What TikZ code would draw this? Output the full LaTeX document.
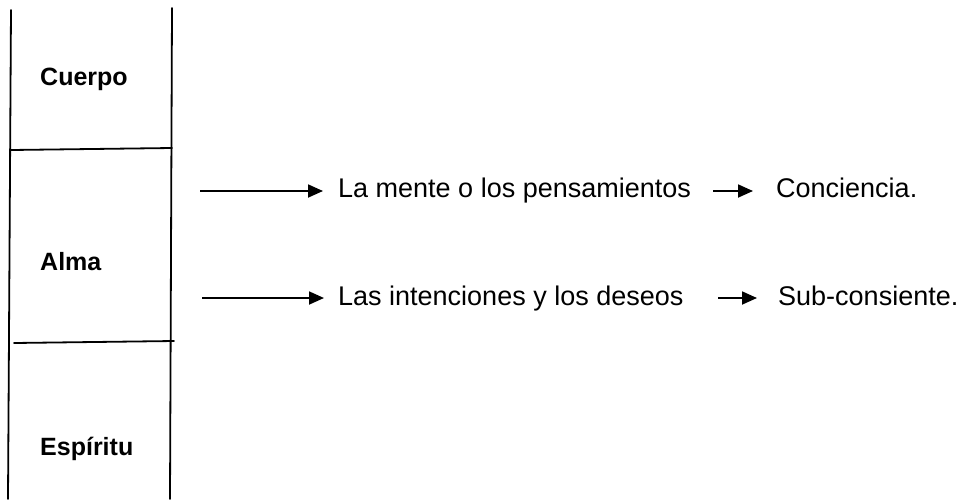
\documentclass[tikz,border=0pt]{standalone}
\usepackage{fontspec}
\setmainfont{Liberation Sans}
\usetikzlibrary{arrows.meta,calc}
\tikzset{
  rule/.style={line width=1.8pt, line cap=round},
  lbl/.style={inner sep=0pt, anchor=base west, font=\fontsize{25}{25}\selectfont\bfseries},
  txt/.style={inner sep=0pt, anchor=base west, font=\fontsize{27}{27}\selectfont},
  arr/.style={line width=1.8pt, -{Triangle[length=15pt,width=13pt]}}
}
\begin{document}
\begin{tikzpicture}[x=1pt,y=-1pt]
\useasboundingbox (0,0) rectangle (961,499);
% column
\draw[rule] (11,10) -- (8,499);
\draw[rule] (172,8) -- (170,499);
\draw[rule] (11,150) -- (172,148);
\draw[rule] (14,343) -- (174,341);
% labels
\node[lbl] (cuerpo) at (40,85) {Cuerpo};
\node[lbl] (alma) at (40,270) {Alma};
\node[lbl] (espiritu) at (40,455) {Espíritu};
% texts
\node[txt] (mente) at (338,197.5) {La mente o los pensamientos};
\node[txt] (conc) at (776,197.5) {Conciencia.};
\node[txt] (inten) at (338,305) {Las intenciones y los deseos};
\node[txt] (sub) at (778,305) {Sub-consiente.};
% arrows
\coordinate (s1) at (200,191);
\coordinate (s2) at (202,298);
\coordinate (a1) at (713,191);
\coordinate (a2) at (718,298);
\draw[arr] (s1) -- ($(s1 -| mente.west)+(-15,0)$);
\draw[arr] (s2) -- ($(s2 -| inten.west)+(-14,0)$);
\draw[arr] (a1) -- ($(a1 -| conc.west)+(-23,0)$);
\draw[arr] (a2) -- ($(a2 -| sub.west)+(-21,0)$);
\end{tikzpicture}
\end{document}
